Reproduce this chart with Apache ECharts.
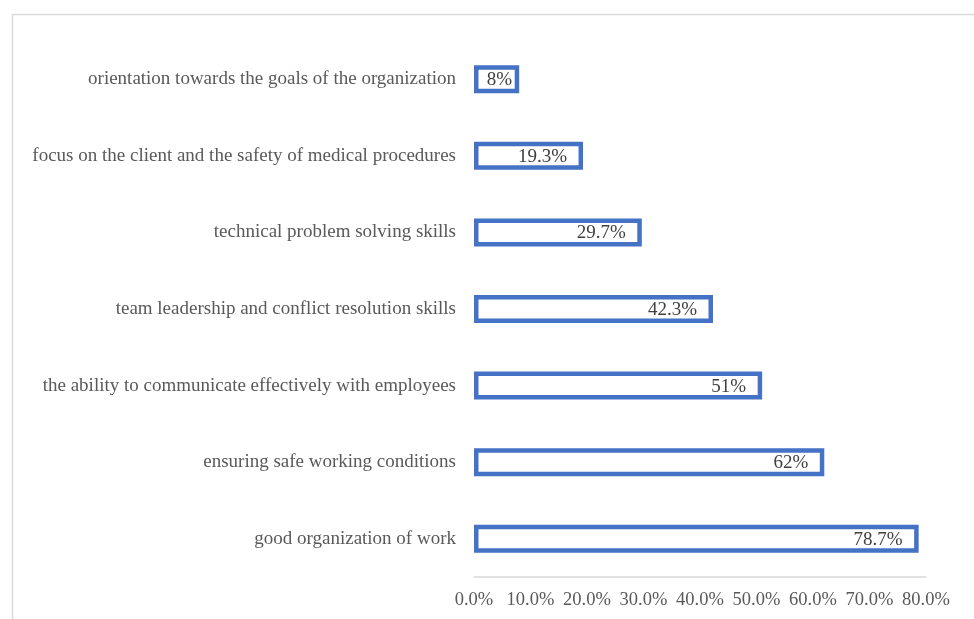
<!DOCTYPE html>
<html>
<head>
<meta charset="utf-8">
<script src="https://cdn.jsdelivr.net/npm/echarts@6/dist/echarts.min.js"></script>
<style>
html,body{margin:0;padding:0;background:#fff;}
#chart{width:974px;height:619px;}
</style>
</head>
<body>
<div id="chart"></div>
<script>
const categories = [
  "orientation towards the goals of the organization",
  "focus on the client and the safety of medical procedures",
  "technical problem solving skills",
  "team leadership and conflict resolution skills",
  "the ability to communicate effectively with employees",
  "ensuring safe working conditions",
  "good organization of work"
];
const values = [8, 19.3, 29.7, 42.3, 51, 62, 78.7];
const valueLabels = ["8%", "19.3%", "29.7%", "42.3%", "51%", "62%", "78.7%"];

const chart = echarts.init(document.getElementById('chart'), null, {renderer: 'canvas'});
const font = '"Liberation Serif", "Times New Roman", serif';
chart.setOption({
  animation: false,
  backgroundColor: '#fff',
  graphic: [{
    type: 'rect',
    shape: {x: 12.5, y: 14.5, width: 1200, height: 800},
    style: {fill: 'none', stroke: '#d9d9d9', lineWidth: 1.5},
    silent: true
  }],
  grid: {left: 474, right: 48, top: 41, bottom: 42, containLabel: false},
  xAxis: {
    type: 'value',
    min: 0, max: 80, interval: 10,
    axisLine: {show: true, lineStyle: {color: '#d9d9d9', width: 1.5}},
    axisTick: {show: false},
    splitLine: {show: false},
    axisLabel: {
      margin: 14,
      color: '#595959',
      fontFamily: font,
      fontSize: 18.5,
      formatter: v => v.toFixed(1) + '%'
    }
  },
  yAxis: {
    type: 'category',
    data: categories,
    inverse: true,
    axisLine: {show: false},
    axisTick: {show: false},
    axisLabel: {margin: 18, color: '#595959', fontFamily: font, fontSize: 19, padding: [3, 0, 0, 0]}
  },
  series: [{
    type: 'bar',
    data: values.map((v, i) => ({
      value: v,
      label: {distance: i === 0 ? 7 : 16}
    })),
    barWidth: 28,
    itemStyle: {color: '#ffffff', borderColor: '#4472C4', borderWidth: 4.5},
    label: {
      show: true,
      position: 'insideRight',
      color: '#404040',
      fontFamily: font,
      fontSize: 19,
      offset: [0, 1],
      formatter: p => valueLabels[p.dataIndex]
    }
  }]
});
</script>
</body>
</html>
